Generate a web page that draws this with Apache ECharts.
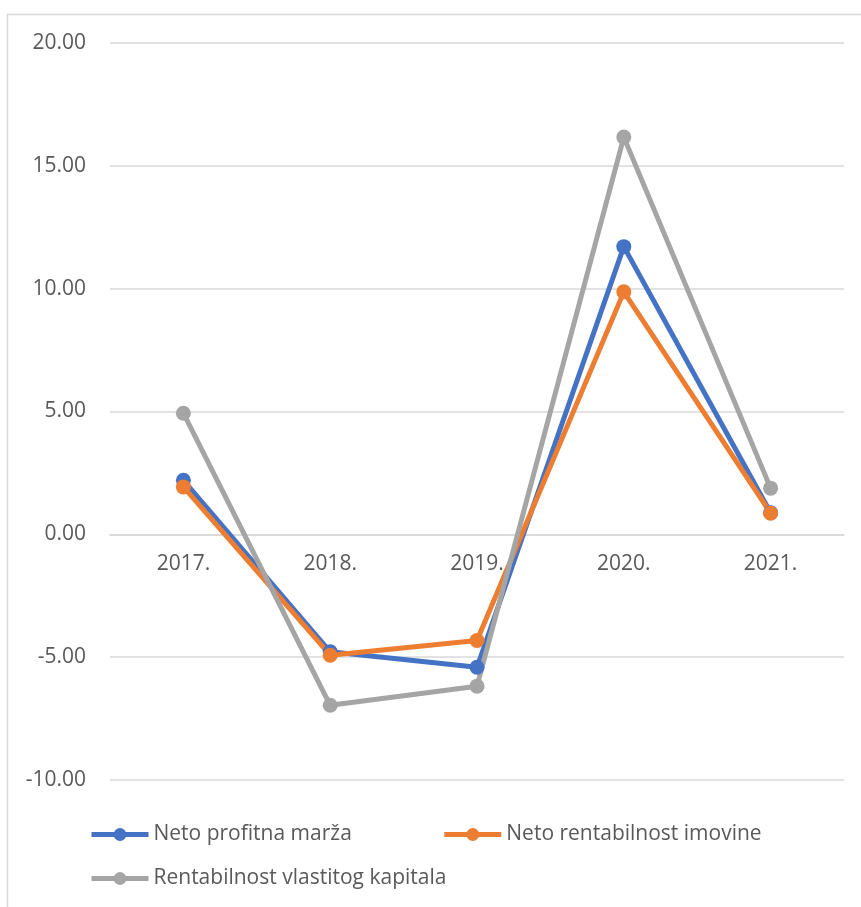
<!DOCTYPE html>
<html>
<head>
<meta charset="utf-8">
<script src="https://cdn.jsdelivr.net/npm/echarts@6/dist/echarts.min.js"></script>
<style>html,body{margin:0;padding:0;background:#fff;}#c{width:861px;height:907px;}</style>
</head>
<body>
<div id="c"></div>
<script>
const categories = ['2017.', '2018.', '2019.', '2020.', '2021.'];
const seriesNames = ['Neto profitna marža', 'Neto rentabilnost imovine', 'Rentabilnost vlastitog kapitala'];
const netoProfitnaMarza = [2.20, -4.78, -5.41, 11.71, 0.88];
const netoRentabilnostImovine = [1.93, -4.92, -4.32, 9.87, 0.86];
const rentabilnostVlastitogKapitala = [4.93, -6.96, -6.18, 16.17, 1.88];
const colors = ['#4472C4', '#ED7D31', '#A5A5A5'];
const yMin = -10, yMax = 20, yInterval = 5;

const FONT = '"Open Sans", sans-serif';
const W = 861, H = 907;
const gridTop = 43, gridBottom = 127;
const gridHeight = H - gridTop - gridBottom;
// move category axis up to the zero line of the value scale
const zeroOffset = -gridHeight * (0 - yMin) / (yMax - yMin);

const chart = echarts.init(document.getElementById('c'), null, {renderer: 'canvas'});

function mk(name, data, color) {
  return {
    name: name, type: 'line', data: data,
    symbol: 'circle', symbolSize: 15,
    itemStyle: {color: color},
    lineStyle: {color: color, width: 5},
    animation: false
  };
}

const legendText = {color: '#595959', fontFamily: FONT, fontSize: 21};

chart.setOption({
  animation: false,
  graphic: [{
    type: 'rect', silent: true,
    shape: {x: 7.5, y: 14.5, width: 900, height: 950},
    style: {fill: 'none', stroke: '#d9d9d9', lineWidth: 1.5}
  }],
  grid: {left: 110, right: 17, top: gridTop, bottom: gridBottom, containLabel: false},
  xAxis: {
    type: 'category', data: categories, boundaryGap: true,
    position: 'bottom', offset: zeroOffset,
    axisLine: {onZero: false, lineStyle: {color: '#d9d9d9', width: 1.5}},
    axisTick: {show: false},
    axisLabel: {color: '#595959', fontFamily: FONT, fontSize: 21, margin: 19}
  },
  yAxis: {
    type: 'value', min: yMin, max: yMax, interval: yInterval,
    axisLine: {show: false}, axisTick: {show: false},
    splitLine: {lineStyle: {color: '#d9d9d9', width: 1.5}},
    axisLabel: {color: '#595959', fontFamily: FONT, fontSize: 21, margin: 24,
      formatter: v => v.toFixed(2)}
  },
  legend: [{
    data: [seriesNames[0], seriesNames[1]],
    left: 84, top: 819, itemWidth: 57, itemHeight: 16, itemGap: 90,
    lineStyle: {width: 5},
    textStyle: legendText
  }, {
    data: [seriesNames[2]],
    left: 84, top: 863, itemWidth: 57, itemHeight: 16,
    lineStyle: {width: 5},
    textStyle: legendText
  }],
  series: [
    mk(seriesNames[0], netoProfitnaMarza, colors[0]),
    mk(seriesNames[1], netoRentabilnostImovine, colors[1]),
    mk(seriesNames[2], rentabilnostVlastitogKapitala, colors[2])
  ]
});
</script>
</body>
</html>
